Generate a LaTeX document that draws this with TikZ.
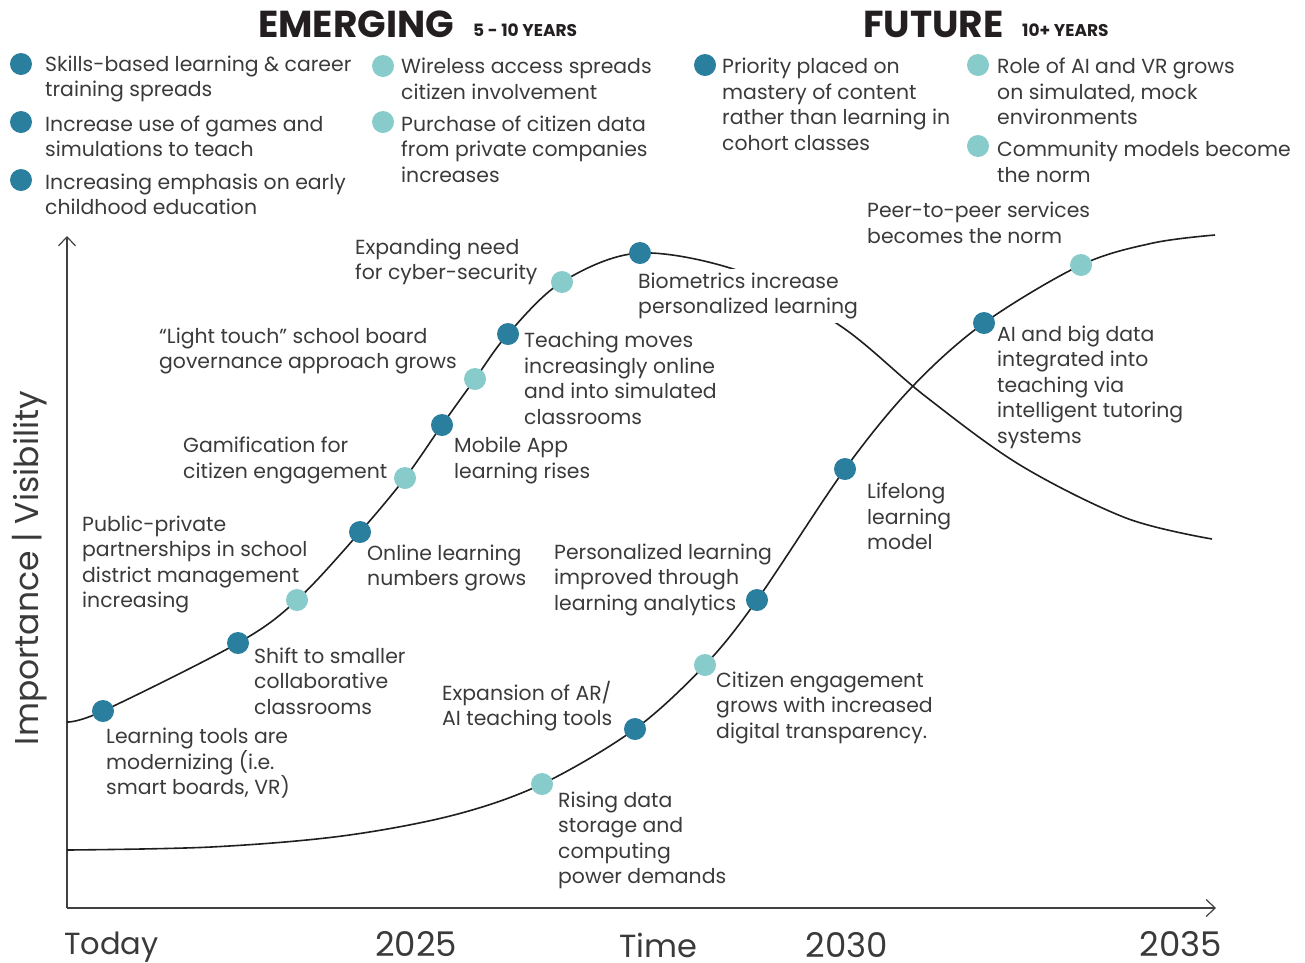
\documentclass[tikz,border=0pt]{standalone}
\usepackage{fontspec}
\setmainfont{Poppins}
\usetikzlibrary{arrows.meta}
\definecolor{darkdot}{RGB}{43,127,158}
\definecolor{lightdot}{RGB}{135,203,202}
\definecolor{txt}{RGB}{58,58,58}
\definecolor{headc}{RGB}{35,31,32}
\begin{document}
\begin{tikzpicture}[x=1pt,y=-1pt,
  lbl/.style={anchor=west, align=left, inner sep=0pt, yshift=-2pt, text=txt, font=\fontsize{20.4}{25.5}\selectfont},
  dk/.style={circle, fill=darkdot, minimum size=22pt, inner sep=0pt},
  lt/.style={circle, fill=lightdot, minimum size=22pt, inner sep=0pt},
  curve/.style={line width=1.6pt, draw=black!88},
  axis/.style={line width=1.2pt, draw=black!75, -{Straight Barb[length=9pt,width=17pt]}},
  headbig/.style={anchor=base west, inner sep=0pt, text=headc, font=\bfseries\fontsize{37.5}{37.5}\selectfont},
  headsmall/.style={anchor=base west, inner sep=0pt, text=headc, font=\bfseries\fontsize{17}{17}\selectfont},
  axlbl/.style={inner sep=0pt, text depth=0pt, text=txt, font=\fontsize{34}{34}\selectfont}]
\useasboundingbox (0,0) rectangle (1305,962);

% headings
\node[headbig] (hemerg) at (258,37) {EMERGING};
\node[headsmall] (hemergy) at (473,36) {5 - 10 YEARS};
\node[headbig] (hfut) at (863,37) {FUTURE};
\node[headsmall] (hfuty) at (1022,36) {10+ YEARS};

% legend
\node[dk] (g1) at (21,64) {};
\node[lbl] (gt1) at (45,77) {Skills-based learning \& career\\training spreads};
\node[dk] (g2) at (21,122) {};
\node[lbl] (gt2) at (45,134.5) {Increase use of games and\\simulations to teach};
\node[dk] (g3) at (21,180) {};
\node[lbl] (gt3) at (45,192.5) {Increasing emphasis on early\\childhood education};
\node[lt] (g4) at (383,66) {};
\node[lbl] (gt4) at (401,77) {Wireless access spreads\\citizen involvement};
\node[lt] (g5) at (383,122) {};
\node[lbl] (gt5) at (401,147) {Purchase of citizen data\\from private companies\\increases};
\node[dk] (g6) at (705,65) {};
\node[lbl] (gt6) at (722,102.5) {Priority placed on\\mastery of content\\rather than learning in\\cohort classes};
\node[lt] (g7) at (978,65) {};
\node[lbl] (gt7) at (997,89.5) {Role of AI and VR grows\\on simulated, mock\\environments};
\node[lt] (g8) at (978,146) {};
\node[lbl] (gt8) at (997,160) {Community models become\\the norm};

% axes
\coordinate (O) at (67,908);
\coordinate (ytop) at (67,236);
\coordinate (xend) at (1216,908);
\draw[axis] (O) -- (ytop);
\draw[axis] (O) -- (xend);

% curves
\draw[curve] plot[smooth, tension=0.55] coordinates {(67,722) (103,711) (238,643) (297,600) (360,532) (405,478) (442,425) (475,379) (508,334) (562,282) (640,253) (745,273) (842,327) (925,396) (1020,465) (1126,518) (1212,539)};
\draw[curve] plot[smooth, tension=0.55] coordinates {(67,850) (211,847) (342,836) (454,815) (542,784) (635,729) (705,665) (757,600) (845,469) (912,387) (984,323) (1081,265) (1153,243) (1215,235)};

% chart labels
\node[lbl] (c1) at (355,260) {Expanding need\\for cyber-security};
\node[lbl] (c2) at (159,349) {“Light touch” school board\\governance approach grows};
\node[lbl] (c3) at (183,458.5) {Gamification for\\citizen engagement};
\node[lbl] (c4) at (82,562.5) {Public-private\\partnerships in school\\district management\\increasing};
\node[lbl] (c5) at (367,566) {Online learning\\numbers grows};
\node[lbl] (c6) at (454,458.5) {Mobile App\\learning rises};
\node[lbl] (c7) at (524,376.5) {Teaching moves\\increasingly online\\and into simulated\\classrooms};
\node[lbl, fill=white, inner sep=4pt] (c8) at (634,294) {Biometrics increase\\personalized learning};
\node[lbl] (c9) at (867,221) {Peer-to-peer services\\becomes the norm};
\node[lbl] (c10) at (997,385) {AI and big data\\integrated into\\teaching via\\intelligent tutoring\\systems};
\node[lbl] (c11) at (867,514.5) {Lifelong\\learning\\model};
\node[lbl] (c12) at (554,577.5) {Personalized learning\\improved through\\learning analytics};
\node[lbl] (c13) at (716,705.5) {Citizen engagement\\grows with increased\\digital transparency.};
\node[lbl] (c14) at (442,704) {Expansion of AR/\\AI teaching tools};
\node[lbl] (c15) at (558,838.5) {Rising data\\storage and\\computing\\power demands};
\node[lbl] (c16) at (254,679) {Shift to smaller\\collaborative\\classrooms};
\node[lbl] (c17) at (106,761.5) {Learning tools are\\modernizing (i.e.\\smart boards, VR)};

% dots curve 1
\node[dk] (a1) at (103,711) {};
\node[dk] (a2) at (238,643) {};
\node[lt] (a3) at (297,600) {};
\node[dk] (a4) at (360,532) {};
\node[lt] (a5) at (405,478) {};
\node[dk] (a6) at (442,425) {};
\node[lt] (a7) at (475,379) {};
\node[dk] (a8) at (508,334) {};
\node[lt] (a9) at (562,282) {};
\node[dk] (a10) at (640,253) {};
% dots curve 2
\node[lt] (b1) at (542,784) {};
\node[dk] (b2) at (635,729) {};
\node[lt] (b3) at (705,665) {};
\node[dk] (b4) at (757,600) {};
\node[dk] (b5) at (845,469) {};
\node[dk] (b6) at (984,323) {};
\node[lt] (b7) at (1081,265) {};

% axis labels
\node[axlbl, anchor=base west, font=\fontsize{30.5}{30.5}\selectfont] (today) at (64,954) {Today};
\node[axlbl, anchor=base] (y25) at (416,956) {2025};
\node[axlbl, anchor=base, font=\fontsize{32}{32}\selectfont] (time) at (658,957) {Time};
\node[axlbl, anchor=base] (y30) at (847,957) {2030};
\node[axlbl, anchor=base] (y35) at (1181,956) {2035};
\node[axlbl, rotate=90, anchor=base, font=\fontsize{33}{33}\selectfont] (ylab) at (38,568) {Importance | Visibility};
\end{tikzpicture}
\end{document}
